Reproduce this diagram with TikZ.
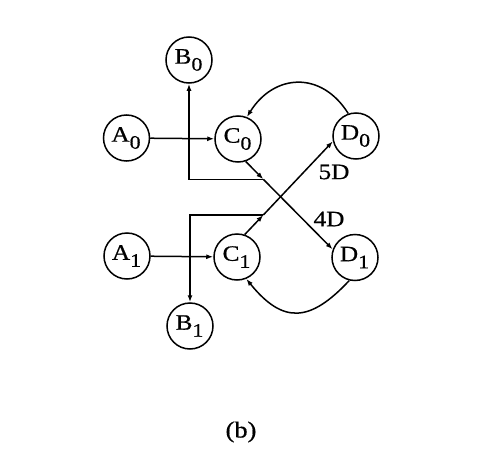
\documentclass[tikz,border=0pt]{standalone}
\usepackage{fontspec}
\setmainfont{Liberation Serif}[FakeStretch=1.15,FakeBold=0.6]
\usetikzlibrary{arrows.meta}
\newcommand\subs[1]{\raisebox{-7pt}{\fontsize{19}{19}\selectfont #1}}
\begin{document}
\begin{tikzpicture}[x=1pt,y=1pt,
  st/.style={circle,draw,line width=1.5pt,minimum size=46pt,inner sep=0pt,font=\fontsize{22}{22}\selectfont},
  conn/.style={line width=1.5pt,-{Latex[length=7pt,width=5pt]}},
  lbl/.style={font=\fontsize{22}{22}\selectfont}]
\useasboundingbox (0,0) rectangle (480,-474);
\node[st] (A0) at (126.5,-138) {\kern-1pt A\subs{0}};
\node[st] (B0) at (189,-60) {\kern-1pt B\subs{0}};
\node[st] (C0) at (238,-139) {\kern-1pt C\subs{0}};
\node[st] (D0) at (356,-136) {\kern-1pt D\subs{0}};
\node[st] (A1) at (127,-256) {\kern-1pt A\subs{1}};
\node[st] (B1) at (190,-326) {\kern-1pt B\subs{1}};
\node[st] (C1) at (237,-257) {\kern-1pt C\subs{1}};
\node[st] (D1) at (355,-257.5) {\kern-1pt D\subs{1}};
\coordinate (j0) at (263.3,-179.3);
\coordinate (j1) at (263.3,-215);
\draw[conn] (A0) -- (C0);
\draw[conn] (A1) -- (C1);
\draw[conn] (C0.-71) -- (j0);
\draw[conn] (j0) -- (D1.160);
\draw[conn] (j0) -| (B0);
\draw[conn] (C1.71) -- (j1);
\draw[conn] (j1) -- (D0.193);
\draw[conn] (j1) -| (B1);
\draw[conn] (D0.109) .. controls +(122:51) and +(58:51) .. (C0.68);
\draw[conn] (D1.256) .. controls +(227:58) and +(309:58) .. (C1.293);
\node[lbl] (l5) at (334,-172) {5D};
\node[lbl] (l4) at (329,-219) {4D};
\node[font=\fontsize{23}{23}\selectfont] (cap) at (241,-432) {(b)};
\end{tikzpicture}
\end{document}
